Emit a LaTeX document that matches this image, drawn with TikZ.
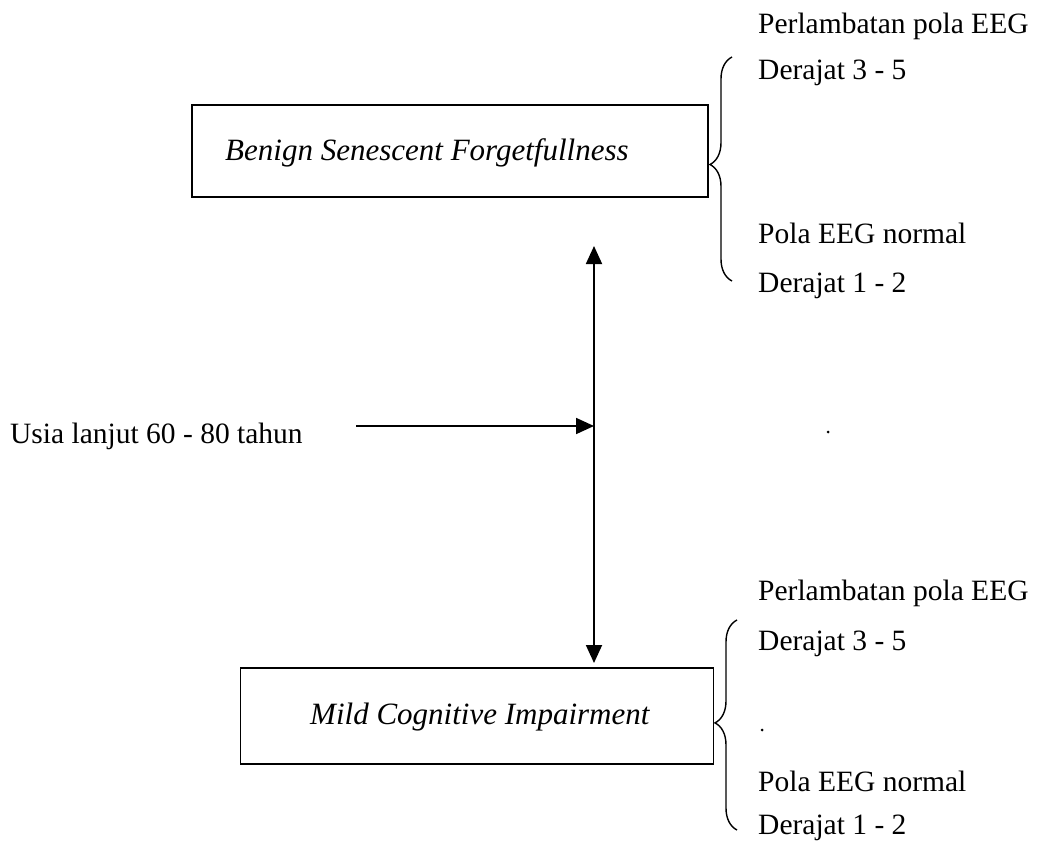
\documentclass[tikz,border=0pt]{standalone}
\usepackage{fontspec}
\setmainfont{Liberation Serif}
\usetikzlibrary{arrows.meta,decorations.pathreplacing}
\begin{document}
\begin{tikzpicture}[x=1pt,y=-1pt,
  every node/.style={font=\fontsize{29.5}{34}\selectfont, inner sep=0pt},
  lbl/.style={anchor=base west},
  boxtxt/.style={anchor=base west, font=\fontsize{31}{36}\selectfont\itshape},
  box/.style={draw, line width=1.6pt},
  conn/.style={line width=1.8pt, -{Triangle[length=18pt,width=16pt]}},
  brc/.style={line width=1.4pt, decorate, decoration={brace, amplitude=22pt}}]
\useasboundingbox (0,0) rectangle (1044,851);
% boxes
\node[box, minimum width=516pt, minimum height=92pt] (bsf) at (450,151) {};
\node[boxtxt] (bsft) at (225,160) {Benign Senescent Forgetfullness};
\node[box, minimum width=473pt, minimum height=96pt] (mci) at (477,716) {};
\node[boxtxt] (mcit) at (310,724) {Mild Cognitive Impairment};
% left label and arrows
\node[lbl] (usia) at (10,443) {Usia lanjut 60 - 80 tahun};
\coordinate (hs) at (356,426);
\coordinate (jn) at (594,426);
\coordinate (vt) at (594,246);
\coordinate (vb) at (594,663);
\draw[conn] (jn) -- (vt);
\draw[conn] (jn) -- (vb);
\draw[conn] (hs) -- (jn);
% top brace and labels
\coordinate (b1a) at (732,281);
\coordinate (b1b) at (732,57);
\draw[brc, decoration={aspect=0.52}] (b1a) -- (b1b);
\node[lbl] (t1) at (758,34) {Perlambatan pola EEG};
\node[lbl] (t2) at (758,80) {Derajat 3 - 5};
\node[lbl] (t3) at (758,243) {Pola EEG normal};
\node[lbl] (t4) at (758,292) {Derajat 1 - 2};
% bottom brace and labels
\coordinate (b2a) at (737,830);
\coordinate (b2b) at (737,620);
\draw[brc, decoration={aspect=0.51}] (b2a) -- (b2b);
\node[lbl] (u1) at (758,600) {Perlambatan pola EEG};
\node[lbl] (u2) at (758,650) {Derajat 3 - 5};
\node[lbl] (u3) at (758,791) {Pola EEG normal};
\node[lbl] (u4) at (758,834) {Derajat 1 - 2};
% stray dots
\fill (828,432) circle (1.5pt);
\fill (762,730) circle (1.5pt);
\end{tikzpicture}
\end{document}
